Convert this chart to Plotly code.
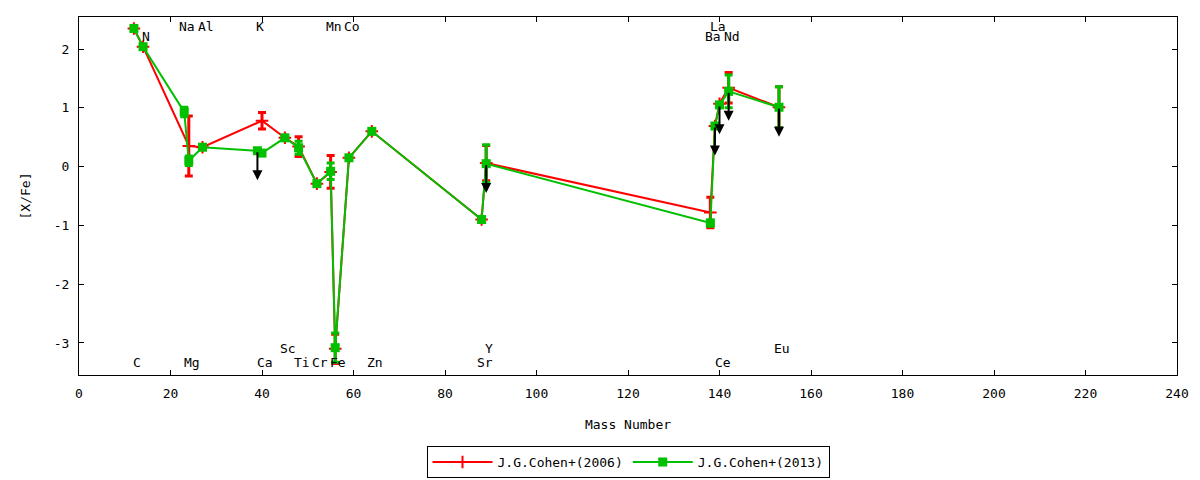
import plotly.graph_objects as go

# J.G.Cohen+(2013)
elem_2013 = ["C", "N", "Na", "Mg", "Al", "K", "Ca", "Sc", "Ti", "Cr", "Mn", "Fe", "Co", "Zn",
             "Sr", "Y", "Ba", "La", "Ce", "Nd", "Eu"]
mass_2013 = [12, 14, 23, 24, 27, 39, 40, 45, 48, 52, 55, 56, 59, 64, 88, 89, 138, 139, 140, 142, 153]
xfe_2013 = [2.35, 2.04, 0.93, 0.10, 0.33, 0.27, 0.23, 0.49, 0.32, -0.29, -0.08, -3.08, 0.15, 0.60,
            -0.90, 0.05, -0.96, 0.69, 1.05, 1.28, 1.01]
err_2013 = [0, 0, 0.08, 0.08, 0, 0, 0, 0, 0.11, 0, 0.14, 0.25, 0, 0, 0, 0.32, 0.05, 0, 0, 0.28, 0.35]
upper_2013 = [0, 0, 0, 0, 0, 1, 0, 0, 0, 0, 0, 0, 0, 0, 0, 1, 0, 1, 1, 1, 1]

# J.G.Cohen+(2006)
elem_2006 = ["C", "N", "Mg", "Al", "Ca", "Sc", "Ti", "Cr", "Mn", "Fe", "Co", "Zn",
             "Sr", "Y", "Ba", "La", "Ce", "Nd", "Eu"]
mass_2006 = [12, 14, 24, 27, 40, 45, 48, 52, 55, 56, 59, 64, 88, 89, 138, 139, 140, 142, 153]
xfe_2006 = [2.35, 2.04, 0.35, 0.33, 0.78, 0.49, 0.34, -0.29, -0.09, -3.10, 0.15, 0.60,
            -0.90, 0.06, -0.78, 0.69, 1.07, 1.34, 1.01]
err_2006 = [0, 0, 0.51, 0, 0.14, 0, 0.17, 0, 0.28, 0.25, 0, 0, 0, 0.30, 0.26, 0, 0, 0.26, 0.35]

# element name labels along top and bottom of the frame
label_names = ["Na", "Al", "K", "Mn", "Co", "La",
               "N", "Ba", "Nd",
               "Sc", "Y", "Eu",
               "C", "Mg", "Ca", "Ti", "Cr", "Fe", "Zn", "Sr", "Ce"]
label_mass = [23, 27, 39, 55, 59, 139,
              14, 138, 142,
              45, 89, 153,
              12, 24, 40, 48, 52, 56, 64, 88, 140]
label_tier = [0, 0, 0, 0, 0, 0,
              1, 1, 1,
              2, 2, 2,
              3, 3, 3, 3, 3, 3, 3, 3, 3]

xtick_vals = list(range(0, 241, 20))
ytick_vals = [-3, -2, -1, 0, 1, 2]
ytick_text = ["-3", "-2", "-1", "0", "1", "2"]

RED = "#ff0000"
GREEN = "#00c000"
FONT = "DejaVu Sans Mono"
tier_y = [2.38, 2.21, -3.10, -3.34]
ul_len = 0.5

fig = go.Figure()

fig.add_trace(go.Scatter(
    x=mass_2006, y=xfe_2006, mode="lines+markers", name="J.G.Cohen+(2006)",
    line=dict(color=RED, width=2),
    marker=dict(symbol="cross-thin", size=9, color=RED, line=dict(color=RED, width=2)),
    error_y=dict(type="data", array=err_2006, visible=True, color=RED, thickness=3, width=4),
    text=elem_2006, hoverinfo="text+y",
))
fig.add_trace(go.Scatter(
    x=mass_2013, y=xfe_2013, mode="lines+markers", name="J.G.Cohen+(2013)",
    line=dict(color=GREEN, width=2),
    marker=dict(symbol="square", size=9, color=GREEN),
    error_y=dict(type="data", array=err_2013, visible=True, color=GREEN, thickness=3, width=4),
    text=elem_2013, hoverinfo="text+y",
))

# upper limits -> black arrows pointing down
for m, v, u in zip(mass_2013, xfe_2013, upper_2013):
    if u:
        fig.add_annotation(x=m, y=v - ul_len, ax=m, ay=v, xref="x", yref="y", axref="x", ayref="y",
                           showarrow=True, arrowhead=2, arrowsize=1, arrowwidth=2, arrowcolor="black",
                           text="")

for name, m, t in zip(label_names, label_mass, label_tier):
    fig.add_annotation(x=m, y=tier_y[t], xref="x", yref="y", text=name, showarrow=False,
                       xshift=3, font=dict(family=FONT, size=13, color="black"))

# page body has an 8px margin, so the figure is 8px smaller than the window
fig.update_layout(
    width=1192, height=472,
    margin=dict(l=71, r=23, t=9, b=105, autoexpand=False),
    paper_bgcolor="white", plot_bgcolor="white",
    font=dict(family=FONT, size=13, color="black"),
    showlegend=True,
    legend=dict(orientation="h", x=0.5, xanchor="center", y=-0.243, yanchor="middle",
                bordercolor="black", borderwidth=1, bgcolor="white",
                font=dict(family=FONT, size=13), itemwidth=60),
)
fig.update_xaxes(range=[0, 240], tickvals=xtick_vals, ticks="inside", ticklen=5, tickcolor="black",
                 ticklabelstandoff=6,
                 showline=True, linecolor="black", linewidth=1, mirror="ticks",
                 showgrid=False, zeroline=False,
                 title=dict(text="Mass Number", standoff=20, font=dict(family=FONT, size=13)))
fig.update_yaxes(range=[-3.545, 2.545], tickvals=ytick_vals, ticktext=ytick_text, ticks="inside",
                 ticklen=5, tickcolor="black", ticklabelstandoff=6,
                 showline=True, linecolor="black", linewidth=1,
                 mirror="ticks", showgrid=False, zeroline=False,
                 title=dict(text="[X/Fe]", standoff=20, font=dict(family=FONT, size=13)))

fig.write_html("out.html")
